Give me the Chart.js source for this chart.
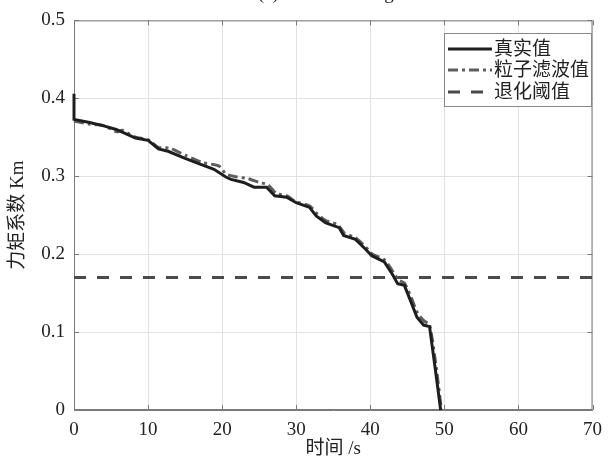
<!DOCTYPE html>
<html>
<head>
<meta charset="utf-8">
<script src="https://cdn.jsdelivr.net/npm/chart.js@4.4.0/dist/chart.umd.min.js"></script>
<style>
  html, body { margin: 0; padding: 0; background: #fff; }
</style>
</head>
<body>
<canvas id="kmChart" width="611" height="461"></canvas>
<script>
// time axis (s) and Km values
const trueTime = [0, 0, 2.1, 3.9, 5.7, 8.3, 10, 11.4, 12.7, 15, 17.2, 18.9, 20.5, 21.2, 22.9, 24.3, 26, 27.1, 28.7, 30, 31.8, 32.7, 34, 35.8, 36.4, 38, 39.3, 40.2, 41.9, 42.8, 43.7, 44.6, 45.4, 46.3, 47.2, 48, 48.8, 49.5];
const trueKm = [0.406, 0.373, 0.369, 0.365, 0.360, 0.349, 0.346, 0.335, 0.332, 0.323, 0.315, 0.309, 0.299, 0.296, 0.292, 0.286, 0.286, 0.275, 0.273, 0.266, 0.260, 0.249, 0.240, 0.234, 0.224, 0.219, 0.207, 0.198, 0.190, 0.177, 0.162, 0.160, 0.141, 0.119, 0.109, 0.107, 0.051, 0];

const pfTime = [0, 2, 4, 5.8, 6.5, 8.3, 10, 11.4, 13, 15, 17.2, 19.6, 20.5, 22, 23.5, 25, 26.2, 27.3, 28.7, 30, 31.8, 32.9, 34, 35.6, 36.5, 38, 39.3, 40.3, 41.9, 42.9, 43.8, 44.6, 45.5, 46.4, 47.3, 48, 48.9, 49.6];
const pfKm = [0.371, 0.367, 0.365, 0.357, 0.359, 0.350, 0.347, 0.337, 0.336, 0.327, 0.318, 0.313, 0.303, 0.299, 0.297, 0.292, 0.289, 0.278, 0.275, 0.267, 0.262, 0.251, 0.243, 0.238, 0.227, 0.221, 0.210, 0.200, 0.193, 0.180, 0.167, 0.163, 0.145, 0.124, 0.114, 0.110, 0.055, 0];

const thresholdTime = [0, 70];
const thresholdKm = [0.17, 0.17];

const seriesNames = ['真实值', '粒子滤波值', '退化阈值'];
const xTicks = [0, 10, 20, 30, 40, 50, 60, 70];
const yTicks = [0, 0.1, 0.2, 0.3, 0.4, 0.5];

const FONT = '"Liberation Serif", "Times New Roman", "Noto Sans CJK SC", serif';

function toPoints(xs, ys) {
  return xs.map((x, i) => ({ x: x, y: ys[i] }));
}

// title (cut off at the top), box outline, inner ticks and legend
const extras = {
  id: 'extras',
  beforeDatasetsDraw(chart) {
    const ctx = chart.ctx;
    const a = chart.chartArea;
    const xs = chart.scales.x, ys = chart.scales.y;
    ctx.save();
    ctx.strokeStyle = '#7a7a7a';
    ctx.lineWidth = 1;
    ctx.strokeRect(a.left + 0.5, a.top + 0.5, a.right - a.left - 1, a.bottom - a.top - 1);
    ctx.beginPath();
    xTicks.forEach(v => {
      const px = Math.round(xs.getPixelForValue(v)) + 0.5;
      ctx.moveTo(px, a.bottom); ctx.lineTo(px, a.bottom - 5);
      ctx.moveTo(px, a.top); ctx.lineTo(px, a.top + 5);
    });
    yTicks.forEach(v => {
      const py = Math.round(ys.getPixelForValue(v)) + 0.5;
      ctx.moveTo(a.left, py); ctx.lineTo(a.left + 5, py);
      ctx.moveTo(a.right, py); ctx.lineTo(a.right - 5, py);
    });
    ctx.stroke();
    ctx.restore();
  },
  afterDraw(chart) {
    const ctx = chart.ctx;
    ctx.save();

    ctx.fillStyle = '#222';
    ctx.font = '19px ' + FONT;
    ctx.textAlign = 'center';
    ctx.textBaseline = 'alphabetic';
    ctx.fillText('(c) Control voltage', 330, -1);

    // legend box
    const bx = 444, by = 33, bw = 147, bh = 73;
    ctx.fillStyle = '#fff';
    ctx.fillRect(bx, by, bw, bh);
    ctx.strokeStyle = '#888';
    ctx.lineWidth = 1;
    ctx.strokeRect(bx + 0.5, by + 0.5, bw, bh);
    const rows = [49, 70, 92];
    chart.data.datasets.forEach((ds, i) => {
      ctx.beginPath();
      ctx.strokeStyle = ds.borderColor;
      ctx.lineWidth = ds.borderWidth;
      ctx.setLineDash(ds.borderDash || []);
      ctx.moveTo(448, rows[i]);
      ctx.lineTo(492, rows[i]);
      ctx.stroke();
      ctx.setLineDash([]);
      ctx.fillStyle = '#222';
      ctx.font = '19px ' + FONT;
      ctx.textAlign = 'left';
      ctx.textBaseline = 'middle';
      ctx.fillText(ds.label, 494, rows[i] + 1);
    });
    ctx.restore();
  }
};

new Chart(document.getElementById('kmChart'), {
  type: 'line',
  data: {
    datasets: [
      {
        label: seriesNames[0],
        data: toPoints(trueTime, trueKm),
        borderColor: '#1e1e1e',
        borderWidth: 3,
        pointRadius: 0,
        tension: 0,
        clip: 5
      },
      {
        label: seriesNames[1],
        data: toPoints(pfTime, pfKm),
        borderColor: '#5e5e5e',
        borderWidth: 3,
        borderDash: [10, 4, 3, 4],
        pointRadius: 0,
        tension: 0.2,
        clip: 5
      },
      {
        label: seriesNames[2],
        data: toPoints(thresholdTime, thresholdKm),
        borderColor: '#4a4a4a',
        borderWidth: 3,
        borderDash: [12, 11],
        pointRadius: 0
      }
    ]
  },
  options: {
    responsive: false,
    animation: false,
    layout: { padding: { top: 19, right: 8, left: 0, bottom: 0 } },
    plugins: {
      legend: { display: false },
      tooltip: { enabled: false }
    },
    scales: {
      x: {
        type: 'linear',
        min: 0,
        max: 70,
        afterFit: s => { s.height = 51; },
        afterBuildTicks: s => { s.ticks = xTicks.map(v => ({ value: v })); },
        grid: { color: '#e2e2e2', drawTicks: false },
        border: { color: '#7a7a7a' },
        ticks: {
          padding: 9,
          color: '#222',
          maxRotation: 0,
          font: { family: FONT, size: 19 }
        },
        title: {
          display: true,
          text: '时间 /s',
          color: '#222',
          padding: { top: 0, bottom: 1 },
          font: { family: FONT, size: 19 }
        }
      },
      y: {
        min: 0,
        max: 0.5,
        afterFit: s => { s.width = 74; },
        afterBuildTicks: s => { s.ticks = yTicks.map(v => ({ value: v })); },
        grid: { color: '#e2e2e2', drawTicks: false },
        border: { color: '#7a7a7a' },
        ticks: {
          padding: 9,
          color: '#222',
          font: { family: FONT, size: 19 },
          callback: v => String(Math.round(v * 10) / 10)
        },
        title: {
          display: true,
          text: '力矩系数 Km',
          color: '#222',
          padding: { top: 7, bottom: 0 },
          font: { family: FONT, size: 19 }
        }
      }
    }
  },
  plugins: [extras]
});
</script>
</body>
</html>
